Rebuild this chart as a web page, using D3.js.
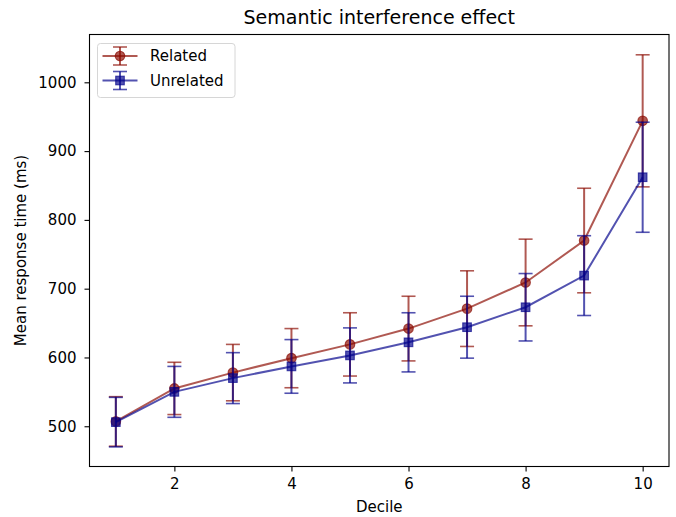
<!DOCTYPE html>
<html>
<head>
<meta charset="utf-8">
<script src="https://cdn.jsdelivr.net/npm/d3@7"></script>
<style>
  body { margin: 0; background: #fff; }
  text { font-family: "DejaVu Sans", sans-serif; fill: #000; }
</style>
</head>
<body>
<svg id="chart" width="676" height="517"></svg>
<script>
const deciles = [1, 2, 3, 4, 5, 6, 7, 8, 9, 10];
const relatedMean = [507, 555, 578, 599, 619, 642, 671, 709, 770, 944];
const relatedErr  = [36, 38, 41, 43, 46, 47, 55, 63, 76, 96];
const unrelatedMean = [506, 550, 570, 587, 603, 622, 644, 673, 719, 862];
const unrelatedErr  = [36, 37, 37, 39, 40, 43, 45, 49, 58, 80];
const xTicks = [2, 4, 6, 8, 10];
const yTicks = [500, 600, 700, 800, 900, 1000];
const seriesNames = ["Related", "Unrelated"];
const seriesColors = ["#8b0a00", "#00008b"];
const seriesShapes = ["circle", "square"];

const svg = d3.select("#chart");
const m = { left: 89.5, right: 669, top: 34.5, bottom: 466.5 };
const alpha = 0.68;

const x = d3.scaleLinear().domain([0.55, 10.45]).range([m.left, m.right]);
const y = d3.scaleLinear().domain([441.5, 1069.5]).range([m.bottom, m.top]);

// title
svg.append("text").attr("x", (m.left + m.right) / 2).attr("y", 24)
  .attr("text-anchor", "middle").style("font-size", "19px")
  .text("Semantic interference effect");

// axes
const xAxis = svg.append("g").attr("transform", `translate(0,${m.bottom})`)
  .call(d3.axisBottom(x).tickValues(xTicks).tickSize(5).tickPadding(7).tickFormat(d3.format("d")));
const yAxis = svg.append("g").attr("transform", `translate(${m.left},0)`)
  .call(d3.axisLeft(y).tickValues(yTicks).tickSize(5).tickPadding(8).tickFormat(d3.format("d")));
[xAxis, yAxis].forEach(g => {
  g.select(".domain").remove();
  g.selectAll("line").attr("stroke", "#000").attr("stroke-width", 1.1);
  g.selectAll("text").style("font-size", "15px").style("font-family", "DejaVu Sans, sans-serif");
});

// frame
svg.append("rect").attr("x", m.left).attr("y", m.top)
  .attr("width", m.right - m.left).attr("height", m.bottom - m.top)
  .attr("fill", "none").attr("stroke", "#000").attr("stroke-width", 1.1);

// axis labels
svg.append("text").attr("x", (m.left + m.right) / 2).attr("y", 512)
  .attr("text-anchor", "middle").style("font-size", "15px").text("Decile");
svg.append("text").attr("transform", `translate(26,${(m.top + m.bottom) / 2}) rotate(-90)`)
  .attr("text-anchor", "middle").style("font-size", "15px").text("Mean response time (ms)");

function drawMarker(g, shape, cx, cy, color) {
  if (shape === "circle") {
    g.append("circle").attr("cx", cx).attr("cy", cy).attr("r", 4.8)
      .attr("fill", color).attr("fill-opacity", alpha)
      .attr("stroke", color).attr("stroke-opacity", alpha).attr("stroke-width", 1.1);
  } else {
    const s = 8.6;
    g.append("rect").attr("x", cx - s / 2).attr("y", cy - s / 2).attr("width", s).attr("height", s)
      .attr("fill", color).attr("fill-opacity", alpha)
      .attr("stroke", color).attr("stroke-opacity", alpha).attr("stroke-width", 1.1);
  }
}

const cap = 7;
const datasets = [
  { mean: relatedMean, err: relatedErr },
  { mean: unrelatedMean, err: unrelatedErr }
];
datasets.forEach((ds, i) => {
  const color = seriesColors[i];
  const g = svg.append("g");
  const pts = deciles.map((d, k) => [x(d), y(ds.mean[k])]);
  g.append("path").attr("d", d3.line()(pts)).attr("fill", "none")
    .attr("stroke", color).attr("stroke-opacity", alpha).attr("stroke-width", 2);
  deciles.forEach((d, k) => {
    const cx = x(d), y0 = y(ds.mean[k] - ds.err[k]), y1 = y(ds.mean[k] + ds.err[k]);
    g.append("line").attr("x1", cx).attr("x2", cx).attr("y1", y0).attr("y2", y1)
      .attr("stroke", color).attr("stroke-opacity", alpha).attr("stroke-width", 2);
    [y0, y1].forEach(yy => g.append("line").attr("x1", cx - cap).attr("x2", cx + cap)
      .attr("y1", yy).attr("y2", yy).attr("stroke", color).attr("stroke-opacity", alpha).attr("stroke-width", 1.6));
  });
  deciles.forEach((d, k) => drawMarker(g, seriesShapes[i], x(d), y(ds.mean[k]), color));
});

// legend
const lg = svg.append("g");
lg.append("rect").attr("x", 97.5).attr("y", 43.5).attr("width", 137.5).attr("height", 54).attr("rx", 3)
  .attr("fill", "#fff").attr("fill-opacity", 0.8).attr("stroke", "#d6d6d6").attr("stroke-width", 1);
seriesNames.forEach((name, i) => {
  const cy = 56 + i * 24.5, cx = 120, color = seriesColors[i];
  lg.append("line").attr("x1", 102.5).attr("x2", 137.5).attr("y1", cy).attr("y2", cy)
    .attr("stroke", color).attr("stroke-opacity", alpha).attr("stroke-width", 2);
  lg.append("line").attr("x1", cx).attr("x2", cx).attr("y1", cy - 9).attr("y2", cy + 9)
    .attr("stroke", color).attr("stroke-opacity", alpha).attr("stroke-width", 2);
  [cy - 9, cy + 9].forEach(yy => lg.append("line").attr("x1", cx - cap).attr("x2", cx + cap)
    .attr("y1", yy).attr("y2", yy).attr("stroke", color).attr("stroke-opacity", alpha).attr("stroke-width", 1.6));
  drawMarker(lg, seriesShapes[i], cx, cy, color);
  lg.append("text").attr("x", 150).attr("y", cy + 5).style("font-size", "15px").text(name);
});
</script>
</body>
</html>
